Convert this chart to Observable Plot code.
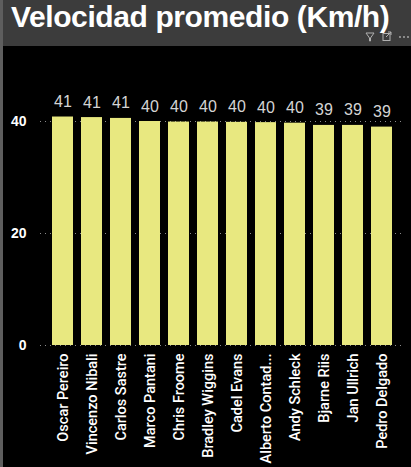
<!DOCTYPE html>
<html><head><meta charset="utf-8">
<script src="https://cdn.jsdelivr.net/npm/d3@7"></script>
<script src="https://cdn.jsdelivr.net/npm/@observablehq/plot@0.6"></script>
<style>
html,body{margin:0;padding:0;background:#3c3c3c;width:411px;height:467px;overflow:hidden}
#wrap{position:relative;width:411px;height:467px;box-sizing:border-box;border-left:3px solid #5e5e5e}
#title{height:46px;position:relative;color:#fff;font:bold 30px "Liberation Sans",Arial,sans-serif;letter-spacing:-0.4px;line-height:30px}
#title span{position:absolute;left:8px;top:2px;white-space:nowrap}
#icons{position:absolute;left:362px;top:31px}
#chart{background:#000;height:421px}
#chart svg{display:block}
</style></head>
<body>
<div id="wrap">
  <div id="title"><span>Velocidad promedio (Km/h)</span>
    <svg id="icons" width="46" height="12" viewBox="0 0 46 12">
      <path d="M1 2 L9 2 L5.5 7 L5.5 10 L4.5 10 L4.5 7 Z" fill="none" stroke="#b0b0b0" stroke-width="1"/>
      <rect x="18" y="2.5" width="7" height="7" fill="none" stroke="#b0b0b0" stroke-width="1"/>
      <path d="M21 6 L26 1 M23 1 L26 1 L26 4" fill="none" stroke="#b0b0b0" stroke-width="1"/>
      <circle cx="35" cy="6" r="0.9" fill="#b0b0b0"/>
      <circle cx="39" cy="6" r="0.9" fill="#b0b0b0"/>
      <circle cx="43" cy="6" r="0.9" fill="#b0b0b0"/>
    </svg>
  </div>
  <div id="chart"></div>
</div>
<script>
const riders = ["Oscar Pereiro","Vincenzo Nibali","Carlos Sastre","Marco Pantani","Chris Froome","Bradley Wiggins","Cadel Evans","Alberto Contad...","Andy Schleck","Bjarne Riis","Jan Ullrich","Pedro Delgado"];
const speeds = [40.8, 40.7, 40.55, 40.0, 39.9, 39.9, 39.85, 39.8, 39.7, 39.3, 39.3, 39.0];
const yTicks = [0, 20, 40];

const data = riders.map((r, i) => ({rider: r, speed: speeds[i]}));

const chart = Plot.plot({
  width: 408, height: 421,
  marginLeft: 37, marginRight: 6, marginTop: 75, marginBottom: 122,
  style: {background: "#000", color: "#fff", fontFamily: "'Liberation Sans', Arial, sans-serif"},
  x: {domain: riders, paddingInner: 0.26, paddingOuter: 0.13, insetLeft: 8, insetRight: 9, label: null},
  y: {domain: [0, 40], label: null},
  marks: [
    Plot.gridY(yTicks, {stroke: "#8a8a8a", strokeOpacity: 1, strokeDasharray: "1,4"}),
    Plot.barY(data, {x: "rider", y: "speed", fill: "#e8e880"}),
    Plot.text(data, {x: "rider", y: "speed", text: d => String(Math.round(d.speed)), lineAnchor: "bottom", dy: -10, fill: "#d4d4d4", fontSize: 16}),
    Plot.axisY(yTicks, {tickSize: 0, tickPadding: 14, fontSize: 14, fontWeight: "bold", label: null}),
    Plot.axisX({tickSize: 0, tickRotate: -90, tickPadding: 8, fontSize: 14.5, fontWeight: 500, fontFamily: "Roboto, 'Liberation Sans', sans-serif", label: null})
  ]
});
document.getElementById("chart").appendChild(chart);
</script>
</body></html>
